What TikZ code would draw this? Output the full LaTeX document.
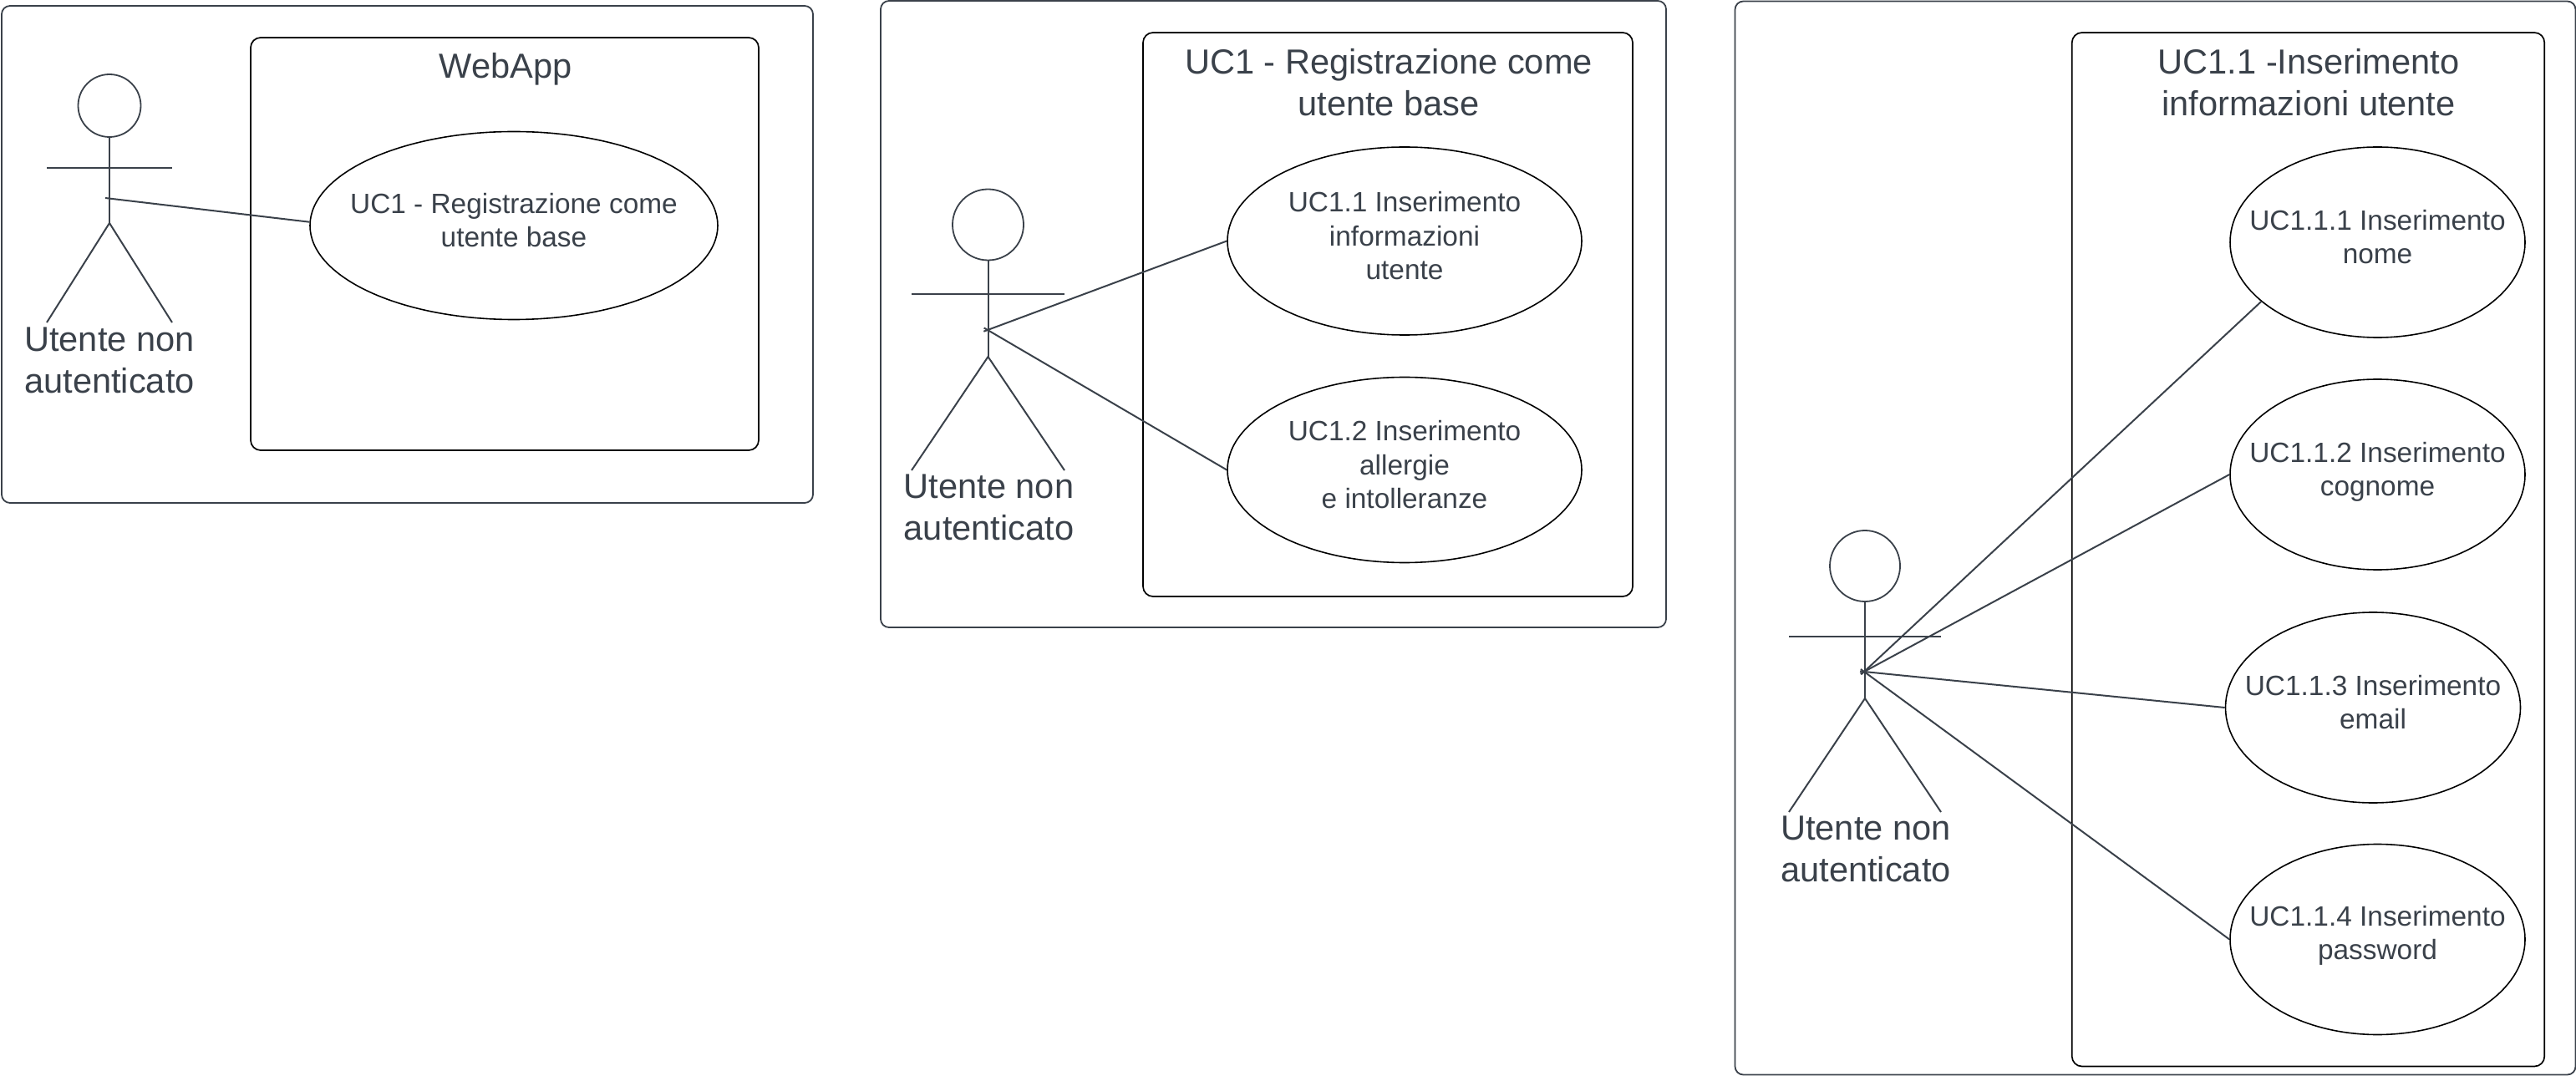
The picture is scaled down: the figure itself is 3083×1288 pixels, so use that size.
\documentclass[tikz,border=0pt]{standalone}
\usepackage{fontspec}
\setmainfont{Liberation Sans}
\usetikzlibrary{shapes.geometric}
\definecolor{ink}{HTML}{3A414A}
\tikzset{
  x=0.5pt,y=-0.5pt,
  frame/.style={draw=ink,line width=0.9pt,rounded corners=5pt},
  sysbox/.style={draw=black,line width=0.85pt,rounded corners=6pt},
  titletext/.style={text=ink,align=center,inner sep=0pt,font=\fontsize{20.8}{25}\selectfont},
  actortext/.style={text=ink,align=center,inner sep=0pt,font=\fontsize{20.8}{25}\selectfont},
  uctext/.style={text=ink,align=center,inner sep=0pt,font=\fontsize{16.7}{20.2}\selectfont,yshift=3.2pt},
  usecase/.style={draw=black,line width=0.8pt,ellipse,inner sep=0pt,fill=white},
  head/.style={draw=ink,line width=0.9pt,ellipse,inner sep=0pt},
  limb/.style={draw=ink,line width=1pt},
  link/.style={draw=ink,line width=1pt},
  stub/.style={shorten <=-2.5pt},
}
\begin{document}
\begin{tikzpicture}
\useasboundingbox (0,0) rectangle (3083,1288);

% ---- Panel 1
\node[frame,minimum width=485.5pt,minimum height=297.5pt] (f1) at (487.5,304.5) {};
\node[sysbox,minimum width=304pt,minimum height=247pt] (b1) at (604,292) {};
\node[titletext] (t1) at (605,83) {WebApp};
\node[usecase,minimum width=244pt,minimum height=112.5pt,label={[uctext]center:UC1 - Registrazione come\\utente base}] (u1) at (615,270) {};
\node[head,minimum width=37.5pt,minimum height=37.5pt] (h1) at (131,126.5) {};
\coordinate (hip1) at (131,267);
\coordinate (armL1) at (56,201);
\coordinate (armR1) at (206,201);
\coordinate (legL1) at (56,386);
\coordinate (legR1) at (206,386);
\coordinate (hand1) at (126,237);
\draw[limb] (h1.south) -- (hip1);
\draw[limb] (armL1) -- (armR1);
\draw[limb] (legL1) -- (hip1) -- (legR1);
\node[actortext] (a1) at (131,431) {Utente non\\autenticato};
\draw[link] (hand1) -- (u1.179.2);

% ---- Panel 2
\node[frame,minimum width=470pt,minimum height=375pt] (f2) at (1524,376) {};
\node[sysbox,minimum width=293pt,minimum height=337.5pt] (b2) at (1661,376.5) {};
\node[titletext] (t2) at (1662,99) {UC1 - Registrazione come\\utente base};
\node[usecase,minimum width=212pt,minimum height=112.5pt,label={[uctext]center:UC1.1 Inserimento\\informazioni\\utente}] (u11) at (1681,288.5) {};
\node[usecase,minimum width=212pt,minimum height=111pt,label={[uctext]center:UC1.2 Inserimento\\allergie\\e intolleranze}] (u12) at (1681,562.5) {};
\node[head,minimum width=42.5pt,minimum height=42.5pt] (h2) at (1182.5,269) {};
\coordinate (hip2) at (1182.5,427);
\coordinate (armL2) at (1091,352.5);
\coordinate (armR2) at (1274,352.5);
\coordinate (legL2) at (1091,563);
\coordinate (legR2) at (1274,563);
\coordinate (hand2) at (1182,395);
\draw[limb] (h2.south) -- (hip2);
\draw[limb] (armL2) -- (armR2);
\draw[limb] (legL2) -- (hip2) -- (legR2);
\node[actortext] (a2) at (1183.5,607.5) {Utente non\\autenticato};
\draw[link,stub] (hand2) -- (u11.west);
\draw[link,stub] (hand2) -- (u12.west);

% ---- Panel 3
\node[frame,minimum width=503pt,minimum height=642.5pt] (f3) at (2579.5,644) {};
\node[sysbox,minimum width=282.75pt,minimum height=618.75pt] (b3) at (2762.5,657.75) {};
\node[titletext] (t3) at (2763,99) {UC1.1 -Inserimento\\informazioni utente};
\node[usecase,minimum width=176.5pt,minimum height=114pt,label={[uctext]center:UC1.1.1 Inserimento\\nome}] (u111) at (2845.5,290) {};
\node[usecase,minimum width=176.5pt,minimum height=114pt,label={[uctext,yshift=-1.5pt]center:UC1.1.2 Inserimento\\cognome}] (u112) at (2845.5,568) {};
\node[usecase,minimum width=176.5pt,minimum height=114pt,label={[uctext]center:UC1.1.3 Inserimento\\email}] (u113) at (2840,847) {};
\node[usecase,minimum width=176.5pt,minimum height=114pt,label={[uctext,yshift=-1pt]center:UC1.1.4 Inserimento\\password}] (u114) at (2845.5,1124.5) {};
\node[head,minimum width=42pt,minimum height=42.5pt] (h3) at (2232,677.5) {};
\coordinate (hip3) at (2232,836);
\coordinate (armL3) at (2141,762);
\coordinate (armR3) at (2323,762);
\coordinate (legL3) at (2141,972);
\coordinate (legR3) at (2323,972);
\coordinate (hand3) at (2231,804);
\draw[limb] (h3.south) -- (hip3);
\draw[limb] (armL3) -- (armR3);
\draw[limb] (legL3) -- (hip3) -- (legR3);
\node[actortext] (a3) at (2233,1016) {Utente non\\autenticato};
\draw[link,stub] (hand3) -- (u111.207);
\draw[link,stub] (hand3) -- (u112.west);
\draw[link,stub] (hand3) -- (u113.west);
\draw[link,stub] (hand3) -- (u114.west);
\end{tikzpicture}
\end{document}
